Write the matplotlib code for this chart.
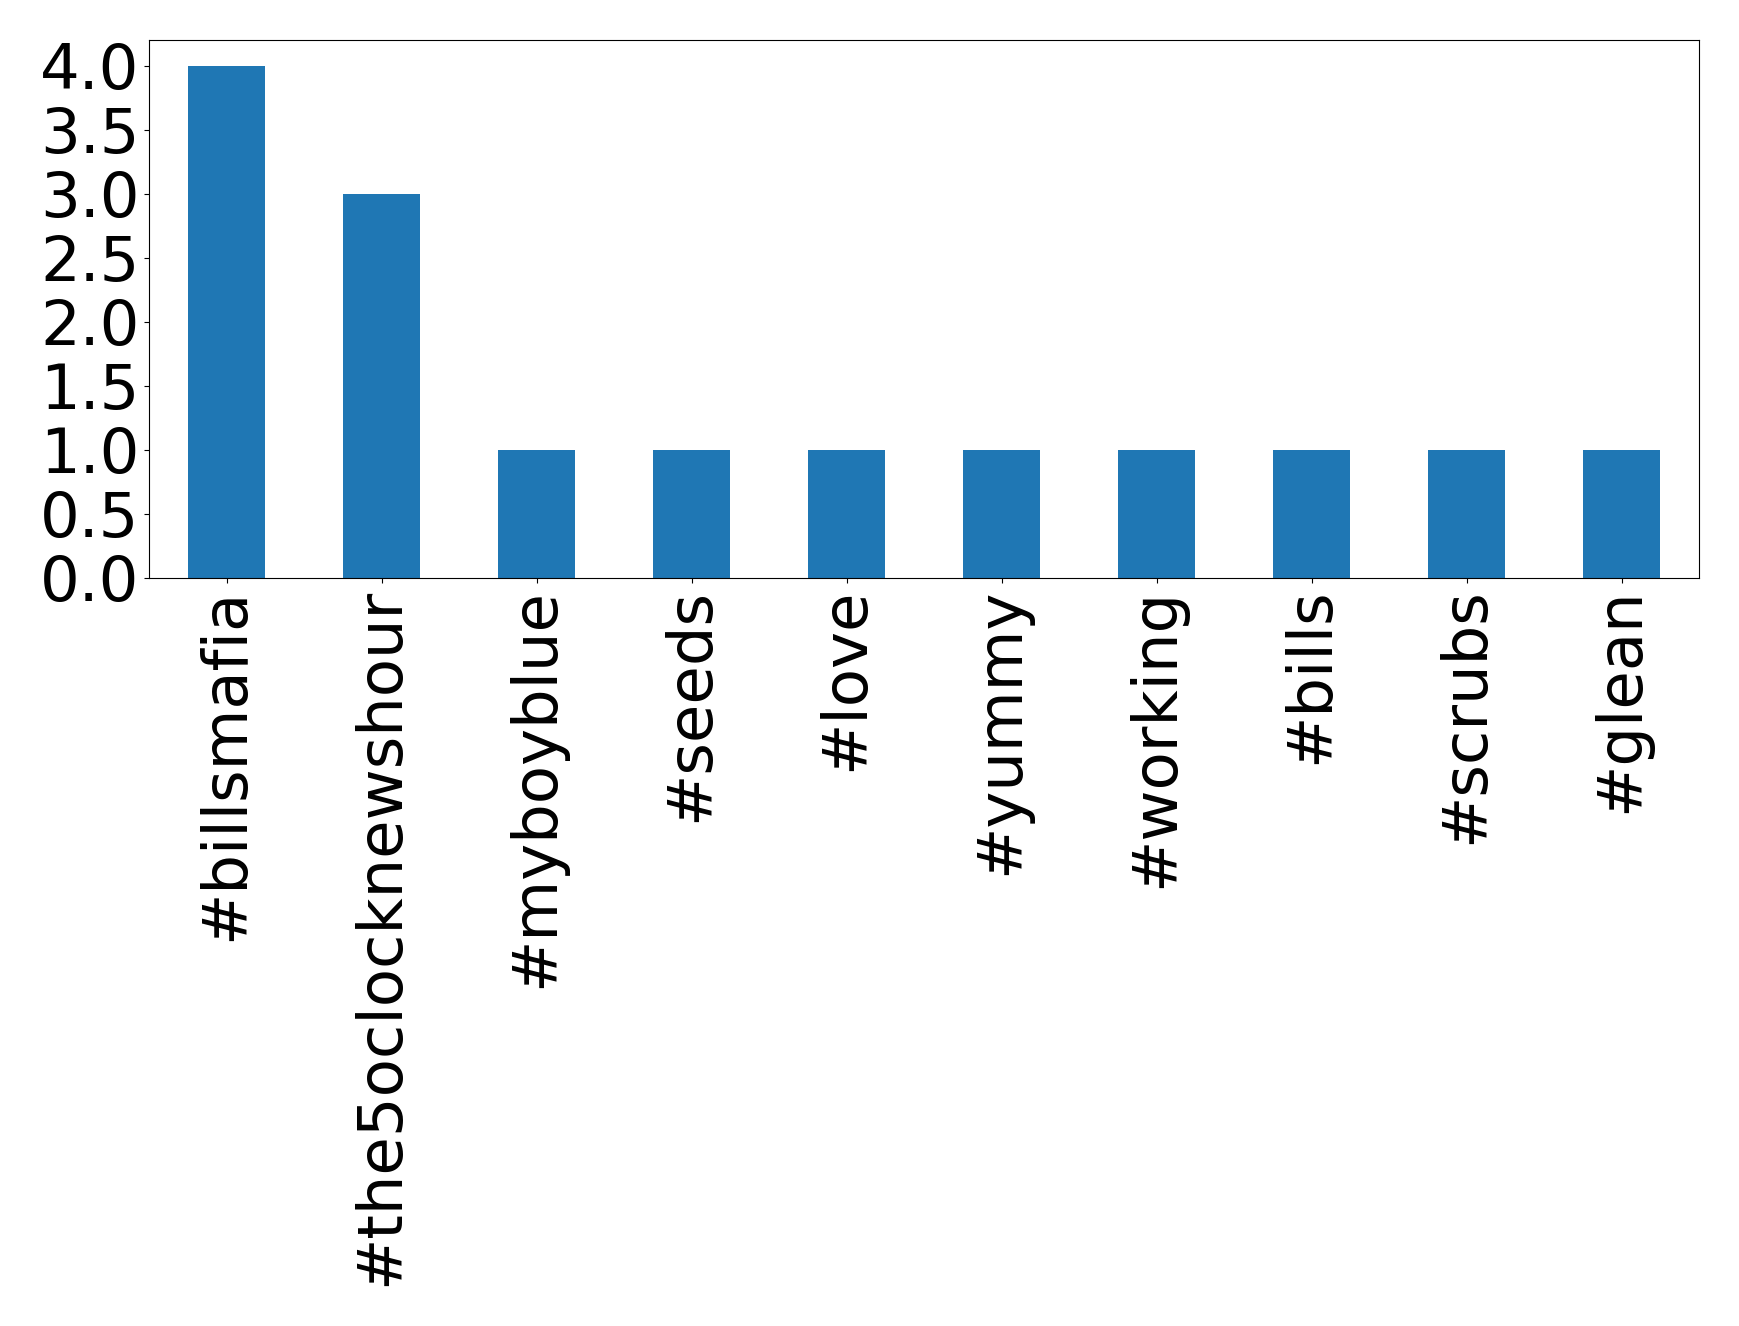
import matplotlib
matplotlib.use("Agg")
import matplotlib.pyplot as plt

categories = ["#billsmafia", "#the5oclocknewshour", "#myboyblue", "#seeds", "#love",
              "#yummy", "#working", "#bills", "#scrubs", "#glean"]
counts = [4, 3, 1, 1, 1, 1, 1, 1, 1, 1]
yticks = [0.0, 0.5, 1.0, 1.5, 2.0, 2.5, 3.0, 3.5, 4.0]

fig = plt.figure(figsize=(17.39, 13.26), dpi=100)
ax = fig.add_axes([149/1739, 1 - 578/1326, (1699-149)/1739, (578-40)/1326])
x = list(range(len(categories)))
ax.bar(x, counts, width=0.5, color="#1f77b4")
ax.set_xlim(-0.5, len(categories) - 0.5)
ax.set_ylim(0, 4.2)
ax.set_xticks(x)
ax.set_xticklabels(categories, rotation=90, fontsize=45)
ax.set_yticks(yticks)
ax.set_yticklabels([f"{v:.1f}" for v in yticks], fontsize=45)
fig.savefig("out.png", dpi=100)
